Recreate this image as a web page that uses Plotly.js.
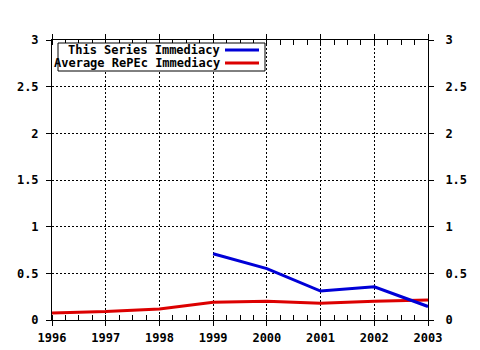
<!DOCTYPE html>
<html><head><meta charset="utf-8">
<script src="https://cdn.plot.ly/plotly-3.0.1.min.js"></script>
<style>html,body{margin:0;padding:0;background:#fff}</style>
</head><body>
<div id="chart" style="width:480px;height:350px"></div>
<script>
var years = [1996, 1997, 1998, 1999, 2000, 2001, 2002, 2003];
var seriesYears = [1999, 2000, 2001, 2002, 2003];
var seriesImmediacy = [0.71, 0.55, 0.31, 0.355, 0.145];
var averageImmediacy = [0.075, 0.09, 0.118, 0.19, 0.20, 0.18, 0.20, 0.215];
var seriesName = 'This Series Immediacy';
var averageName = 'Average RePEc Immediacy';
var yTicks = [0, 0.5, 1, 1.5, 2, 2.5, 3];
var yTickText = ['0', '0.5', '1', '1.5', '2', '2.5', '3'];

var L = 52, R = 428, T = 40, B = 320;
function px(x) { return (x - L) / (R - L); }
function py(y) { return (B - y) / (B - T); }
var fam = 'DejaVu Sans Mono, Liberation Mono, monospace';
var font = {family: fam, size: 12, color: '#000', weight: 700};
var tickFont = {family: fam, size: 12, color: '#000', weight: 700};
var blue = 'rgb(0,0,215)', red = 'rgb(220,0,0)';
var grid = '2px,2px';

var traces = [
  {x: years, y: averageImmediacy, type: 'scatter', mode: 'lines', name: averageName,
   line: {color: red, width: 3}, hoverinfo: 'skip'},
  {x: seriesYears, y: seriesImmediacy, type: 'scatter', mode: 'lines', name: seriesName,
   line: {color: blue, width: 3}, hoverinfo: 'skip'},
  {x: years, y: averageImmediacy, yaxis: 'y2', type: 'scatter', mode: 'lines',
   line: {width: 0}, opacity: 0, showlegend: false, hoverinfo: 'skip'}
];

var layout = {
  width: 480, height: 350,
  margin: {l: L, r: 480 - R, t: T, b: 350 - B},
  paper_bgcolor: '#fff', plot_bgcolor: '#fff',
  showlegend: false,
  font: font,
  xaxis: {
    range: [1996, 2003], tickvals: years, ticktext: years.map(String),
    showline: true, linecolor: '#000', linewidth: 1, mirror: 'allticks',
    ticks: 'outside', ticklen: 5, tickcolor: '#000', ticklabelstandoff: 2,
    minor: {dtick: 0.25, tick0: 1996, ticks: 'inside', ticklen: 3, tickcolor: '#000', showgrid: false},
    showgrid: true, gridcolor: '#000', griddash: grid, gridwidth: 1,
    zeroline: false, tickfont: tickFont
  },
  yaxis: {
    range: [0, 3], tickvals: yTicks, ticktext: yTickText,
    showline: true, linecolor: '#000', linewidth: 1,
    ticks: 'outside', ticklen: 5, tickcolor: '#000', ticklabelstandoff: 5,
    showgrid: true, gridcolor: '#000', griddash: grid, gridwidth: 1,
    zeroline: false, tickfont: tickFont
  },
  yaxis2: {
    range: [0, 3], tickvals: yTicks, ticktext: yTickText,
    overlaying: 'y', side: 'right',
    showline: true, linecolor: '#000', linewidth: 1,
    ticks: 'outside', ticklen: 5, tickcolor: '#000', ticklabelstandoff: 9,
    showgrid: false, zeroline: false, tickfont: tickFont
  },
  shapes: [
    {type: 'rect', xref: 'paper', yref: 'paper', x0: px(58), x1: px(265), y0: py(71), y1: py(43),
     line: {color: '#000', width: 1}, fillcolor: '#fff', layer: 'above'},
    {type: 'line', xref: 'paper', yref: 'paper', x0: px(225), x1: px(259), y0: py(50), y1: py(50),
     line: {color: blue, width: 3}, layer: 'above'},
    {type: 'line', xref: 'paper', yref: 'paper', x0: px(225), x1: px(259), y0: py(63), y1: py(63),
     line: {color: red, width: 3}, layer: 'above'}
  ],
  annotations: [
    {xref: 'paper', yref: 'paper', x: px(222), y: py(50), xanchor: 'right', yanchor: 'middle',
     text: seriesName, showarrow: false, font: font},
    {xref: 'paper', yref: 'paper', x: px(222), y: py(63), xanchor: 'right', yanchor: 'middle',
     text: averageName, showarrow: false, font: font}
  ]
};
Plotly.newPlot('chart', traces, layout, {staticPlot: true, displayModeBar: false});
</script>
</body></html>
